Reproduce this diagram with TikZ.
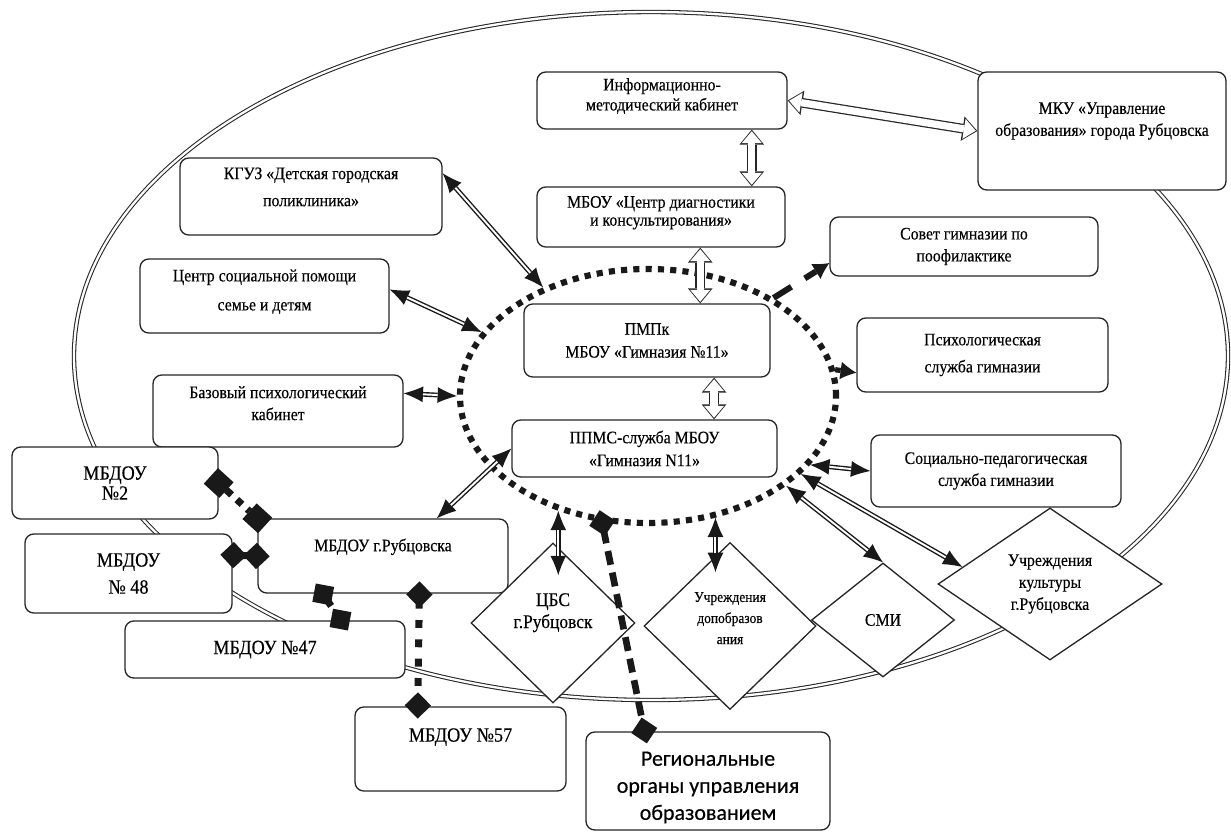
\documentclass[tikz,border=0pt]{standalone}
\usepackage{fontspec}
\setmainfont{Liberation Serif}[FakeStretch=0.9, FakeBold=0.3]
\newfontfamily\regionfont{Carlito}[FakeBold=0.4]
\usepackage{tikz}
\usetikzlibrary{arrows.meta}
\usetikzlibrary{shapes.geometric}

\tikzset{
  box/.style={draw=black!85, line width=0.75pt, rounded corners=5pt, fill=white,
    align=center, inner sep=2pt, font=\fontsize{10}{12}\selectfont},
  bigbox/.style={box, font=\fontsize{11.5}{13.5}\selectfont},
  rhomb/.style={diamond, draw=black!85, line width=0.75pt, fill=white, align=center,
    inner sep=0pt, font=\fontsize{10}{12.5}\selectfont},
  frame/.style={draw=black!85, line width=0.6pt, double, double distance=1.3pt},
  twoway/.style={draw=black!90, line width=2.7pt,
    {Latex[length=11pt,width=9pt,line width=0pt]}-{Latex[length=11pt,width=9pt,line width=0pt]},
    postaction={draw=white, line width=1.1pt, -, shorten <=11pt, shorten >=11pt}},
  hollow/.style={draw=white, line width=4.1pt,
    {Triangle[length=6.8pt,width=11.5pt,line width=0pt]}-{Triangle[length=6.8pt,width=11.5pt,line width=0pt]},
    shorten <=0.9pt, shorten >=0.9pt,
    preaction={draw=black!85, line width=5.5pt,
      {Triangle[length=8.5pt,width=14pt,line width=0pt]}-{Triangle[length=8.5pt,width=14pt,line width=0pt]},
      shorten <=0pt, shorten >=0pt}},
  chain/.style={draw=black!90, line width=4pt, dash pattern=on 4.5pt off 6.5pt,
    {Diamond[length=15pt,width=15pt,line width=0pt]}-{Diamond[length=15pt,width=15pt,line width=0pt]},
    shorten <=-7pt, shorten >=-7pt},
  squarechain/.style={draw=black!90, line width=4pt, dash pattern=on 4pt off 4pt,
    {Square[length=12pt,width=12pt,line width=0pt]}-{Square[length=12pt,width=12pt,line width=0pt]},
    shorten <=-6pt, shorten >=-6pt},
  tosovet/.style={draw=black!90, line width=3.4pt, dash pattern=on 12pt off 9pt,
    -{Latex[length=9pt,width=10pt,line width=0pt]}},
  topsy/.style={draw=black!90, line width=3pt, -{Latex[length=9pt,width=10pt,line width=0pt]}}
}

\begin{document}
\begin{tikzpicture}[scale=2]
    \useasboundingbox (0,0) rectangle (12.31,8.32);

    % outer frame
    \draw[frame] (6.51,4.76) ellipse (5.77 and 3.44);

    % dotted ring round the gymnasium
    \node[ellipse, draw=black!90, line width=3.5pt, dash pattern=on 3.5pt off 3.5pt,
      minimum width=7.52cm, minimum height=5.08cm, inner sep=0pt] (core) at (6.48,4.36) {};

    % top row
    \node[box, minimum width=5cm, minimum height=1.14cm] (info) at (6.62,7.315)
      {Информационно-\\[-0.6pt]методический кабинет\\[-5pt]\mbox{}};
    \node[box, minimum width=4.96cm, minimum height=2.36cm] (mku) at (11.02,7.01)
      {МКУ «Управление\\[0.5pt]образования» города Рубцовска\\[1.5pt]\mbox{}};
    \node[box, minimum width=4.96cm, minimum height=1.2cm] (diag) at (6.61,6.15)
      {МБОУ «Центр диагностики\\[-1.8pt]и консультирования»\\[-5pt]\mbox{}};

    % left column
    \node[box, minimum width=5.24cm, minimum height=1.54cm] (kguz) at (3.11,6.355)
      {КГУЗ «Детская городская\\[3.4pt]поликлиника»\\[-1pt]\mbox{}};
    \node[box, minimum width=4.98cm, minimum height=1.48cm] (social) at (2.645,5.36)
      {Центр социальной помощи\\[4.5pt]семье и детям\\[-5pt]\mbox{}};
    \node[box, minimum width=5cm, minimum height=1.44cm] (psycab) at (2.78,4.21)
      {Базовый психологический\\[0.5pt]кабинет\\[-3pt]\mbox{}};

    % centre
    \node[box, minimum width=4.92cm, minimum height=1.46cm] (pmpk) at (6.47,4.915)
      {ПМПк\\[1pt]МБОУ «Гимназия №11»};
    \node[box, minimum width=5.3cm, minimum height=1.14cm] (ppms) at (6.445,3.835)
      {ППМС-служба МБОУ\\[1pt]«Гимназия N11»};

    % right column
    \node[box, minimum width=5.36cm, minimum height=1.18cm] (sovet) at (9.64,5.855)
      {Совет гимназии по\\[0.5pt]поофилактике};
    \node[box, minimum width=5.02cm, minimum height=1.48cm] (psy) at (9.825,4.77)
      {Психологическая\\[3.4pt]служба гимназии};
    \node[box, minimum width=5cm, minimum height=1.44cm] (socped) at (9.96,3.61)
      {Социально-педагогическая\\[0.5pt]служба гимназии};

    % kindergartens
    \node[bigbox, minimum width=4.12cm, minimum height=1.44cm] (mbdou2) at (1.15,3.49)
      {МБДОУ\\[-2.1pt]№2};
    \node[bigbox, minimum width=4.14cm, minimum height=1.58cm] (mbdou48) at (1.285,2.585)
      {МБДОУ\\[1.9pt]№ 48};
    \node[box, minimum width=5cm, minimum height=1.48cm] (mbdoucity) at (3.83,2.76)
      {МБДОУ г.Рубцовска\\[0.6pt]\mbox{}};
    \node[bigbox, minimum width=5.6cm, minimum height=1.14cm] (mbdou47) at (2.65,1.825)
      {МБДОУ №47};
    \node[bigbox, minimum width=4.22cm, minimum height=1.68cm] (mbdou57) at (4.605,0.83)
      {МБДОУ №57\\[2.5pt]\mbox{}};

    % regional body
    \node[box, minimum width=4.88cm, minimum height=1.96cm,
      font=\regionfont\fontsize{12.5}{15.4}\selectfont] (region) at (7.08,0.51)
      {\mbox{}\\Региональные\\органы управления\\образованием};

    % diamonds
    \node[rhomb, minimum width=3.28cm, minimum height=3.2cm, font=\fontsize{11}{12.5}\selectfont]
      (cbs) at (5.53,2.09) {ЦБС\\г.Рубцовск\\[1.6pt]\mbox{}};
    \node[rhomb, minimum width=3.44cm, minimum height=3.34cm, font=\fontsize{8.5}{12}\selectfont]
      (dop) at (7.30,2.06) {Учреждения\\допобразов\\ания\\[-3pt]\mbox{}};
    \node[rhomb, minimum width=2.86cm, minimum height=2.28cm] (smi) at (8.83,2.12) {СМИ};
    \node[rhomb, minimum width=4.48cm, minimum height=3.04cm] (kult) at (10.50,2.48)
      {Учреждения\\культуры\\г.Рубцовска};

    % wide arrows
    \draw[hollow] (info.east) -- (mku.west);
    \draw[hollow] (info.342) -- (info.342 |- diag.north);
    \draw[hollow] (diag.322) -- (diag.322 |- pmpk.north);
    \draw[hollow] (pmpk.331) -- (pmpk.331 |- ppms.north);

    % two-way links
    \draw[twoway] (kguz.10) -- (core.134);
    \draw[twoway] (social.3) -- (core.159);
    \draw[twoway] (psycab.8) -- (core.west);
    \draw[twoway] (ppms.west) -- (mbdoucity.35);
    \draw[twoway] (core.232) -- (core.232 |- cbs.125);
    \draw[twoway] (core.299) -- (core.299 |- dop.120);
    \draw[twoway] (core.337) -- (socped.west);
    \draw[twoway] (core.327) -- (smi.north);
    \draw[twoway] (core.333) -- (kult.169);

    % one-way links
    \draw[tosovet] (core.38) -- (sovet.187);
    \draw[topsy] (core.8) -- (psy.188);

    % kindergarten network
    \draw[squarechain] (mbdou2.east) -- (mbdoucity.north west);
    \draw[chain] (mbdou48.10) -- (mbdoucity.west);
    \draw[chain] (mbdoucity.212) -- (mbdou47.21);
    \draw[chain] (mbdoucity.314) -- (mbdou57.135);
    \draw[chain, line width=3.8pt, dash pattern=on 8pt off 4.5pt] (core.250) -- (region.142);

\end{tikzpicture}
\end{document}
